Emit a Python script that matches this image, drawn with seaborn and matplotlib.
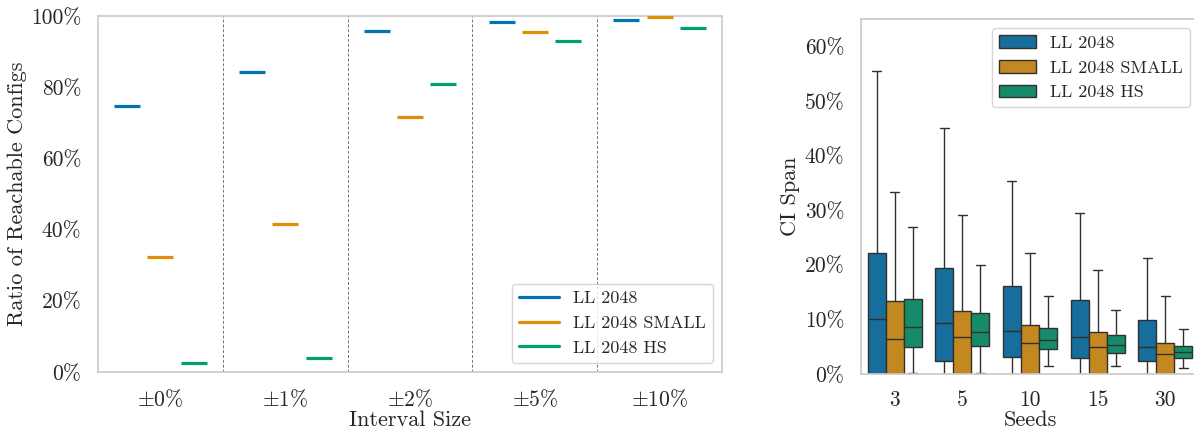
import numpy as np
import pandas as pd
import matplotlib
matplotlib.use("Agg")
import matplotlib.pyplot as plt
from matplotlib.lines import Line2D
from matplotlib.ticker import PercentFormatter, MultipleLocator
import seaborn as sns

# ---- data ---------------------------------------------------------------
models = ["LL 2048", "LL 2048 SMALL", "LL 2048 HS"]

interval_sizes = [0, 1, 2, 5, 10]
interval_labels = [r"$\pm$" + f"{v}%" for v in interval_sizes]

# ratio of reachable configurations per interval size
reach_ll2048 = [0.748, 0.843, 0.959, 0.982, 0.990]
reach_ll2048_small = [0.322, 0.415, 0.715, 0.954, 0.996]
reach_ll2048_hs = [0.024, 0.039, 0.808, 0.931, 0.965]

seeds = ["3", "5", "10", "15", "30"]

# CI span summaries per seed count: [min, q1, median, q3, max]
span_ll2048 = [
    [0.000, 0.000, 0.100, 0.221, 0.554],
    [0.000, 0.023, 0.094, 0.194, 0.450],
    [0.000, 0.031, 0.078, 0.161, 0.353],
    [0.000, 0.029, 0.067, 0.135, 0.295],
    [0.000, 0.024, 0.050, 0.099, 0.212],
]
span_ll2048_small = [
    [0.000, 0.000, 0.064, 0.134, 0.333],
    [0.000, 0.000, 0.067, 0.116, 0.292],
    [0.000, 0.000, 0.057, 0.089, 0.222],
    [0.000, 0.000, 0.050, 0.076, 0.191],
    [0.000, 0.000, 0.037, 0.056, 0.142],
]
span_ll2048_hs = [
    [0.001, 0.050, 0.086, 0.138, 0.269],
    [0.002, 0.052, 0.077, 0.112, 0.200],
    [0.015, 0.045, 0.062, 0.084, 0.143],
    [0.015, 0.039, 0.053, 0.071, 0.118],
    [0.011, 0.029, 0.040, 0.051, 0.083],
]

# ---- tidy tables ----------------------------------------------------------
reach_df = pd.DataFrame({
    "interval": interval_labels * 3,
    "ratio": reach_ll2048 + reach_ll2048_small + reach_ll2048_hs,
    "model": np.repeat(models, len(interval_labels)),
})

rows = []
for model, summary in zip(models, [span_ll2048, span_ll2048_small, span_ll2048_hs]):
    for seed, stats in zip(seeds, summary):
        for v in stats:
            rows.append({"seeds": seed, "span": v, "model": model})
span_df = pd.DataFrame(rows)

# ---- style ----------------------------------------------------------------
sns.set_theme(style="whitegrid", palette="colorblind")
plt.rcParams.update({
    "font.family": ["cmr10"],
    "mathtext.fontset": "cm",
    "axes.formatter.use_mathtext": True,
    "axes.unicode_minus": False,
    "axes.grid": False,
    "xtick.labelsize": 15.5,
    "ytick.labelsize": 15.5,
    "axes.labelsize": 16,
    "legend.fontsize": 13,
})
colors = sns.color_palette("colorblind", 3)

fig = plt.figure(figsize=(11.94, 4.29), dpi=100)
ax1 = fig.add_axes([0.0821, 0.1329, 0.5226, 0.8298])
ax2 = fig.add_axes([0.7211, 0.1282, 0.2831, 0.8275])

# ---- left: reachable configs ---------------------------------------------
sns.stripplot(
    data=reach_df, x="interval", y="ratio", hue="model",
    order=interval_labels, hue_order=models, palette=colors,
    dodge=True, jitter=False, marker="_", size=18.7,
    linewidth=2.3, edgecolor="face", ax=ax1, legend=False,
)
for xb in np.arange(0.5, len(interval_labels) - 1, 1.0):
    ax1.axvline(xb, color="0.45", ls=(0, (3, 2)), lw=0.7, zorder=1)
ax1.set_xlim(-0.5, len(interval_labels) - 0.5)
ax1.set_ylim(0, 1)
ax1.yaxis.set_major_locator(MultipleLocator(0.2))
ax1.yaxis.set_major_formatter(PercentFormatter(1.0, decimals=0))
ax1.set_xlabel("Interval Size", labelpad=0)
ax1.set_ylabel("Ratio of Reachable Configs", labelpad=3)
handles = [Line2D([], [], color=c, lw=2.3) for c in colors]
ax1.legend(handles, models, loc="lower right", handlelength=2.2)

# ---- right: CI span boxplots ------------------------------------------------
sns.boxplot(
    data=span_df, x="seeds", y="span", hue="model",
    order=seeds, hue_order=models, palette=colors,
    whis=(0, 100), showfliers=False, ax=ax2,
)
ax2.set_ylim(0, 0.65)
ax2.yaxis.set_major_locator(MultipleLocator(0.1))
ax2.yaxis.set_major_formatter(PercentFormatter(1.0, decimals=0))
ax2.set_xlabel("Seeds", labelpad=0)
ax2.set_ylabel("CI Span", labelpad=3)
ax2.legend(loc="upper right", title=None)

for ax in (ax1, ax2):
    ax.tick_params(axis="both", pad=6)

fig.savefig("out.png", dpi=100)
